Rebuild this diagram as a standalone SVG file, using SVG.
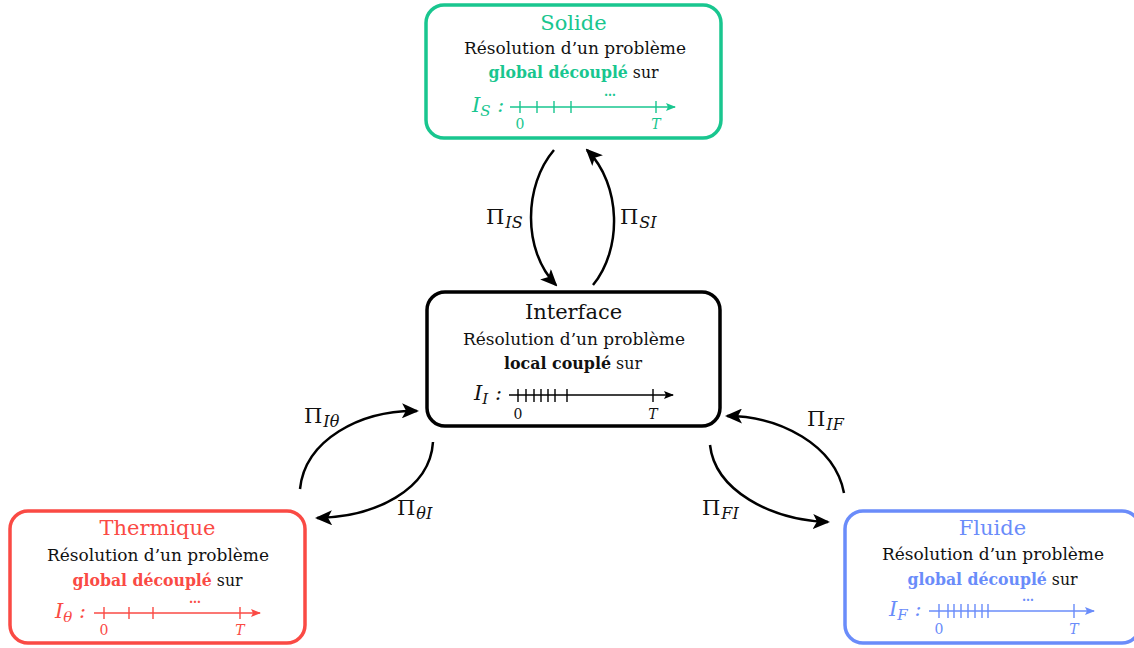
<svg xmlns="http://www.w3.org/2000/svg" width="1134" height="648" viewBox="0 0 1134 648">
<defs>
<style>
text{font-family:"DejaVu Serif","Liberation Serif",serif;}
.box{fill:#fff;stroke-width:3.5;}
.title{font-size:21px;text-anchor:middle;}
.body{font-size:16px;text-anchor:middle;fill:#111;}
.b{font-weight:bold;}
.lab{font-size:14px;text-anchor:middle;font-style:italic;}
.zero{font-style:normal;}
.math{font-size:21px;font-style:italic;}
.sub{font-size:15px;font-style:italic;}
.conn{fill:none;stroke:#000;stroke-width:2.5;}
.pi{font-size:21px;fill:#111;}
.psub{font-size:16px;font-style:italic;}
.axis{stroke-width:1.4;fill:none;}
.dots{font-size:12px;text-anchor:middle;font-weight:bold;}
</style>
<marker id="ah" viewBox="0 0 17 15" refX="15" refY="7.5" markerWidth="17" markerHeight="15" markerUnits="userSpaceOnUse" orient="auto"><path d="M0,0 L17,7.5 L0,15 L4,7.5 Z" fill="#000"/></marker>
<marker id="ag" viewBox="0 0 10 8" refX="9" refY="4" markerWidth="10" markerHeight="8" markerUnits="userSpaceOnUse" orient="auto"><path d="M0,0 L10,4 L0,8 L2,4 Z" fill="#19c68f"/></marker>
<marker id="ak" viewBox="0 0 10 8" refX="9" refY="4" markerWidth="10" markerHeight="8" markerUnits="userSpaceOnUse" orient="auto"><path d="M0,0 L10,4 L0,8 L2,4 Z" fill="#000"/></marker>
<marker id="ar" viewBox="0 0 10 8" refX="9" refY="4" markerWidth="10" markerHeight="8" markerUnits="userSpaceOnUse" orient="auto"><path d="M0,0 L10,4 L0,8 L2,4 Z" fill="#fa4a44"/></marker>
<marker id="ab" viewBox="0 0 10 8" refX="9" refY="4" markerWidth="10" markerHeight="8" markerUnits="userSpaceOnUse" orient="auto"><path d="M0,0 L10,4 L0,8 L2,4 Z" fill="#6a8cfa"/></marker>
</defs>

<g id="solide">
<rect class="box" x="426" y="5" width="295" height="133" rx="18" stroke="#19c68f"/>
<text class="title" x="573.5" y="30" fill="#19c68f">Solide</text>
<text class="body" x="575" y="54" textLength="222" lengthAdjust="spacingAndGlyphs">Résolution d’un problème</text>
<text class="body" x="573.5" y="78" textLength="170" lengthAdjust="spacingAndGlyphs"><tspan class="b" fill="#19c68f">global découplé</tspan> sur</text>
<text x="472" y="112" fill="#19c68f"><tspan class="math">I</tspan><tspan class="sub" dy="4">S</tspan><tspan class="math" dy="-4" font-style="normal"> :</tspan></text>
<g stroke="#19c68f" class="axis">
<line x1="510" y1="107" x2="675" y2="107" marker-end="url(#ag)"/>
<path d="M520,101V113M537,101V113M554,101V113M571,101V113M656,101V113"/>
</g>
<text class="dots" x="610" y="96" fill="#19c68f">…</text>
<text class="lab zero" x="520" y="129" fill="#19c68f">0</text>
<text class="lab" x="656" y="129" fill="#19c68f">T</text>
</g>

<g id="interface">
<rect class="box" x="427" y="292" width="293" height="134" rx="18" stroke="#000"/>
<text class="title" x="573.5" y="319" fill="#111">Interface</text>
<text class="body" x="574" y="345" textLength="222" lengthAdjust="spacingAndGlyphs">Résolution d’un problème</text>
<text class="body" x="573" y="369" textLength="138" lengthAdjust="spacingAndGlyphs"><tspan class="b">local couplé</tspan> sur</text>
<text x="474" y="400" fill="#111"><tspan class="math">I</tspan><tspan class="sub" dy="4">I</tspan><tspan class="math" dy="-4" font-style="normal"> :</tspan></text>
<g stroke="#000" class="axis">
<line x1="509" y1="395" x2="673" y2="395" marker-end="url(#ak)"/>
<path d="M518,389V402M526,389V402M534,389V402M541,389V402M548,389V402M555,389V402M567,389V402M653,389V402"/>
</g>
<text class="lab zero" x="518" y="419" fill="#111">0</text>
<text class="lab" x="653" y="419" fill="#111">T</text>
</g>

<g id="thermique">
<rect class="box" x="10" y="511" width="295" height="132" rx="18" stroke="#fa4a44"/>
<text class="title" x="157.5" y="535" fill="#fa4a44">Thermique</text>
<text class="body" x="158" y="561" textLength="222" lengthAdjust="spacingAndGlyphs">Résolution d’un problème</text>
<text class="body" x="157.5" y="586" textLength="170" lengthAdjust="spacingAndGlyphs"><tspan class="b" fill="#fa4a44">global découplé</tspan> sur</text>
<text x="55" y="618" fill="#fa4a44"><tspan class="math">I</tspan><tspan class="sub" dy="4">θ</tspan><tspan class="math" dy="-4" font-style="normal"> :</tspan></text>
<g stroke="#fa4a44" class="axis">
<line x1="94" y1="613" x2="260" y2="613" marker-end="url(#ar)"/>
<path d="M104,607V619M129,607V619M153,607V619M240,607V619"/>
</g>
<text class="dots" x="195" y="603" fill="#fa4a44">…</text>
<text class="lab zero" x="104" y="635" fill="#fa4a44">0</text>
<text class="lab" x="240" y="635" fill="#fa4a44">T</text>
</g>

<g id="fluide">
<rect class="box" x="845" y="511" width="295" height="132" rx="18" stroke="#6a8cfa"/>
<text class="title" x="992.5" y="535" fill="#6a8cfa">Fluide</text>
<text class="body" x="993" y="560" textLength="222" lengthAdjust="spacingAndGlyphs">Résolution d’un problème</text>
<text class="body" x="992.5" y="585" textLength="170" lengthAdjust="spacingAndGlyphs"><tspan class="b" fill="#6a8cfa">global découplé</tspan> sur</text>
<text x="889" y="616" fill="#6a8cfa"><tspan class="math">I</tspan><tspan class="sub" dy="4">F</tspan><tspan class="math" dy="-4" font-style="normal"> :</tspan></text>
<g stroke="#6a8cfa" class="axis">
<line x1="929" y1="611" x2="1094" y2="611" marker-end="url(#ab)"/>
<path d="M939,604V618M948,604V618M954,604V618M961,604V618M968,604V618M975,604V618M982,604V618M988,604V618M1074,604V618"/>
</g>
<text class="dots" x="1028" y="601" fill="#6a8cfa">…</text>
<text class="lab zero" x="939" y="634" fill="#6a8cfa">0</text>
<text class="lab" x="1074" y="634" fill="#6a8cfa">T</text>
</g>

<g id="connectors">
<path class="conn" d="M554,150 C524,185 522,250 556,285" marker-end="url(#ah)"/>
<path class="conn" d="M593,285 C622,250 622,185 587,150" marker-end="url(#ah)"/>
<path class="conn" d="M300,489 C305,440 360,410 417,411" marker-end="url(#ah)"/>
<path class="conn" d="M433,442 C430,490 375,517 317,518" marker-end="url(#ah)"/>
<path class="conn" d="M844,493 C835,445 780,416 727,416" marker-end="url(#ah)"/>
<path class="conn" d="M710,445 C715,490 770,520 828,522" marker-end="url(#ah)"/>
<text class="pi" x="486" y="224">Π<tspan class="psub" dx="1" dy="4">IS</tspan></text>
<text class="pi" x="620" y="224">Π<tspan class="psub" dx="1" dy="4">SI</tspan></text>
<text class="pi" x="304" y="423">Π<tspan class="psub" dx="1" dy="4">Iθ</tspan></text>
<text class="pi" x="397" y="515">Π<tspan class="psub" dx="1" dy="4">θI</tspan></text>
<text class="pi" x="807" y="426">Π<tspan class="psub" dx="1" dy="4">IF</tspan></text>
<text class="pi" x="702" y="515">Π<tspan class="psub" dx="1" dy="4">FI</tspan></text>
</g>
</svg>
